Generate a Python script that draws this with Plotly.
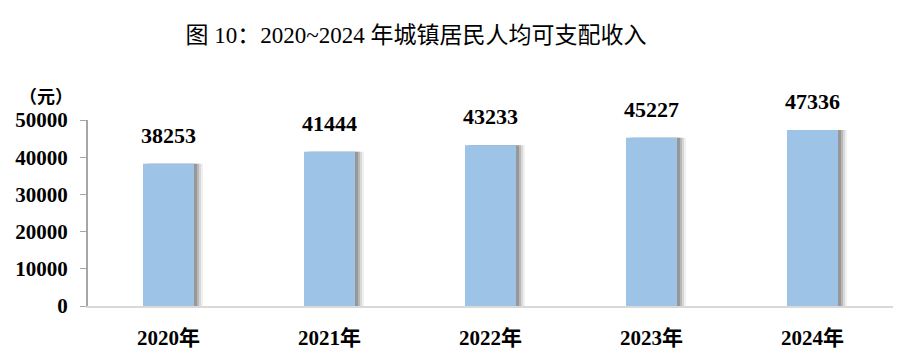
import plotly.graph_objects as go

years = ["2020年", "2021年", "2022年", "2023年", "2024年"]
income = [38253, 41444, 43233, 45227, 47336]
y_ticks = [0, 10000, 20000, 30000, 40000, 50000]

W, H = 899, 361
ml, mr, mt, mb = 88, 6, 120, 55
pw = W - ml - mr
cat_px = pw / len(years)
bw = 51 / cat_px
SERIF = "Liberation Serif, Times New Roman, Noto Sans CJK SC, serif"

fig = go.Figure()
# soft shadow layers
for dx, op in [(9, 0.10), (7, 0.18), (5, 0.3), (3, 0.45)]:
    fig.add_trace(go.Bar(
        x=years, y=income, width=bw, offset=-bw / 2 + dx / cat_px,
        marker=dict(color=f"rgba(110,110,110,{op})", line=dict(width=0)),
        hoverinfo="skip", showlegend=False))
fig.add_trace(go.Bar(
    x=years, y=income, width=bw, offset=-bw / 2,
    marker=dict(color="#9dc3e6", line=dict(width=0)),
    showlegend=False))

annotations = [dict(x=yr, y=v, xref="x", yref="y", text=f"<b>{v}</b>", showarrow=False,
                    yanchor="bottom", xanchor="center", yshift=14,
                    font=dict(family=SERIF, size=22, color="#000000"))
               for yr, v in zip(years, income)]
annotations.append(dict(text="<b>（元）</b>", xref="paper", yref="paper",
                        x=(46 - ml) / pw, y=(H - mb - 97) / (H - mt - mb),
                        xanchor="center", yanchor="middle", showarrow=False,
                        font=dict(family=SERIF, size=18, color="#000000")))

fig.update_layout(
    width=W, height=H, barmode="overlay",
    margin=dict(l=ml, r=mr, t=mt, b=mb),
    paper_bgcolor="white", plot_bgcolor="white",
    title=dict(text="图 10：2020~2024 年城镇居民人均可支配收入", x=416 / W, xanchor="center",
               xref="container",
               y=1 - 35 / H, yanchor="middle",
               font=dict(family=SERIF, size=23, color="#000000")),
    xaxis=dict(showline=True, linecolor="#d9d9d9", linewidth=2, ticks="",
               tickfont=dict(family=SERIF, size=21, color="#000000"),
               tickvals=years, ticktext=[f"<b>{y}</b>" for y in years], fixedrange=True,
               ticklabelstandoff=12),
    yaxis=dict(range=[0, 50000], tickvals=y_ticks, ticktext=[f"<b>{v}</b>" for v in y_ticks],
               showgrid=False, zeroline=False, showline=True, linecolor="#a6a6a6", linewidth=2,
               ticks="outside", ticklen=6, tickcolor="#a6a6a6", tickwidth=1,
               tickfont=dict(family=SERIF, size=21, color="#000000"),
               ticklabelstandoff=8),
    annotations=annotations,
)
fig.write_html("out.html", config={"displayModeBar": False})
with open("out.html", encoding="utf-8") as f:
    html = f.read()
html = html.replace("<head>", "<head><style>html,body{margin:0;padding:0;overflow:hidden;}</style>", 1)
with open("out.html", "w", encoding="utf-8") as f:
    f.write(html)
